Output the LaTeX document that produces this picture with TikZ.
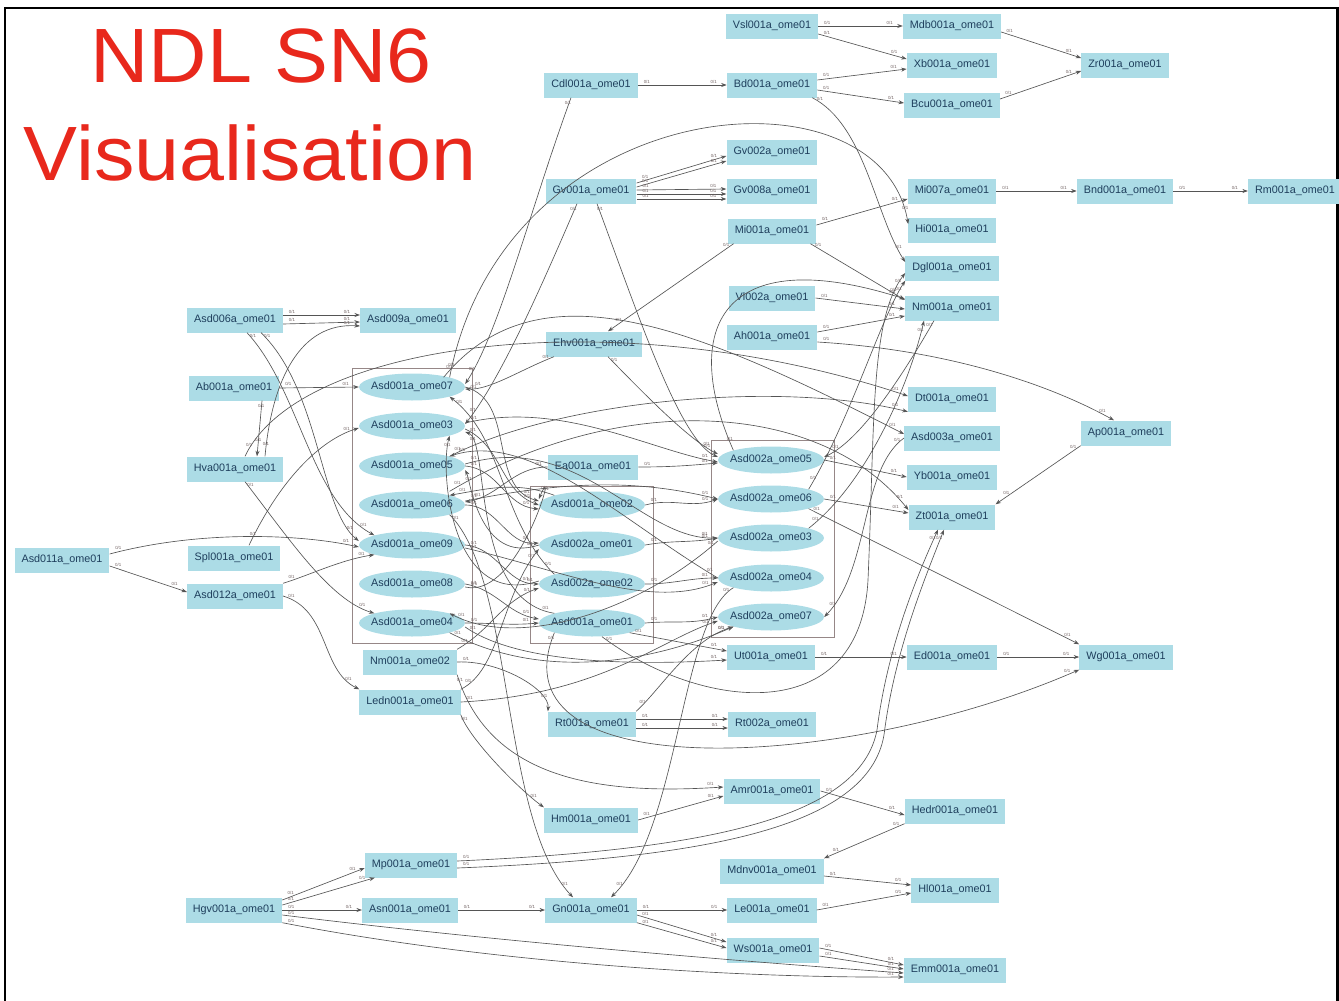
\documentclass[tikz,border=0pt]{standalone}
\usepackage{fontspec}
\setmainfont{Liberation Sans}
\usepackage{graphicx}
\usetikzlibrary{shapes.geometric,arrows.meta,decorations.markings}
\definecolor{boxblue}{RGB}{172,220,230}
\definecolor{nodetext}{RGB}{30,62,92}
\definecolor{edgegrey}{RGB}{85,85,85}
\definecolor{labgrey}{RGB}{115,100,100}
\definecolor{titlered}{RGB}{232,40,28}
\definecolor{clustergrey}{RGB}{150,135,135}
\tikzset{
  nb/.style={rectangle, fill=boxblue, text=nodetext, font=\fontsize{10.8}{12}\selectfont, minimum height=25pt, inner xsep=7pt, inner ysep=0pt},
  ne/.style={ellipse, fill=boxblue, minimum width=106pt, minimum height=27pt, inner sep=0pt},
  nt/.style={text=nodetext, font=\fontsize{10.8}{12}\selectfont, inner sep=0pt},
  lab/.style={font=\fontsize{4.4}{5}\selectfont, text=labgrey, inner sep=0.3pt},
  lnk/.style={draw=edgegrey, line width=0.65pt, -{Stealth[length=5.5pt,width=4pt]},
    postaction={decorate, decoration={markings,
      mark=at position 9pt with {\node[lab, yshift=3.5pt] {0/1};},
      mark=at position -13pt with {\node[lab, yshift=3.5pt] {0/1};}}}},
  cl/.style={draw=clustergrey, line width=0.8pt},
  ttl/.style={text=titlered, font=\fontsize{77}{80}\selectfont, inner sep=0pt, anchor=base}
}
\begin{document}
\begin{tikzpicture}[x=1pt,y=-1pt]
\useasboundingbox (0,0) rectangle (1339,1001);
% frame
\draw[line width=2.5pt] (5,1010) -- (5,8) -- (1337.5,8) -- (1337.5,1010);
% title
\node[ttl] (t1) at (261,82) {\scalebox{1.05}[1]{NDL SN6}};
\node[ttl] (t2) at (250,180) {\scalebox{1.05}[1]{Visualisation}};
% clusters
\draw[cl] (352,368) rectangle (472,643);
\draw[cl] (530,486) rectangle (653,643);
\draw[cl] (711,440) rectangle (834,637);
% top nodes
\node[nb] (vsl) at (772,26) {Vsl001a\_ome01};
\node[nb] (mdb) at (952,26) {Mdb001a\_ome01};
\node[nb] (xb) at (952,65) {Xb001a\_ome01};
\node[nb] (zr) at (1125,65) {Zr001a\_ome01};
\node[nb] (cd) at (591,85) {Cdl001a\_ome01};
\node[nb] (bd) at (772,85) {Bd001a\_ome01};
\node[nb] (bcu) at (952,105) {Bcu001a\_ome01};
\node[nb] (gv2) at (772,152) {Gv002a\_ome01};
\node[nb] (gv1) at (591,191) {Gv001a\_ome01};
\node[nb] (gv8) at (772,191) {Gv008a\_ome01};
\node[nb] (mi7) at (952,191) {Mi007a\_ome01};
\node[nb] (bnd) at (1125,191) {Bnd001a\_ome01};
\node[nb] (rm) at (1295,191) {Rm001a\_ome01};
\node[nb] (mi1) at (772,231) {Mi001a\_ome01};
\node[nb] (hi) at (952,230) {Hi001a\_ome01};
\node[nb] (dgl) at (952,268) {Dgl001a\_ome01};
\node[nb] (vl) at (772,298) {Vl002a\_ome01};
\node[nb] (nm) at (952,308) {Nm001a\_ome01};
\node[nb] (ah) at (772,337) {Ah001a\_ome01};
\node[nb] (ehv) at (594,344) {Ehv001a\_ome01};
% left nodes
\node[nb] (asd6) at (235,320) {Asd006a\_ome01};
\node[nb] (asd9) at (408,320) {Asd009a\_ome01};
\node[nb] (ab) at (234,388) {Ab001a\_ome01};
\node[nb] (hva) at (235,469) {Hva001a\_ome01};
\node[nb] (asd11) at (62,560) {Asd011a\_ome01};
\node[nb] (spl) at (234,558) {Spl001a\_ome01};
\node[nb] (asd12) at (235,596) {Asd012a\_ome01};
% left cluster
\node[ne] (a07) at (412,387) {}; \node[nt] (a07t) at (a07) {Asd001a\_ome07};
\node[ne] (a03) at (412,426) {}; \node[nt] (a03t) at (a03) {Asd001a\_ome03};
\node[ne] (a05) at (412,466) {}; \node[nt] (a05t) at (a05) {Asd001a\_ome05};
\node[ne] (a06) at (412,505) {}; \node[nt] (a06t) at (a06) {Asd001a\_ome06};
\node[ne] (a09) at (412,545) {}; \node[nt] (a09t) at (a09) {Asd001a\_ome09};
\node[ne] (a08) at (412,584) {}; \node[nt] (a08t) at (a08) {Asd001a\_ome08};
\node[ne] (a04) at (412,623) {}; \node[nt] (a04t) at (a04) {Asd001a\_ome04};
\node[nb] (nm2) at (410,662) {Nm001a\_ome02};
\node[nb] (ledn) at (410,702) {Ledn001a\_ome01};
% middle cluster
\node[nb] (ea) at (593,467) {Ea001a\_ome01};
\node[ne] (m02) at (592,505) {}; \node[nt] (m02t) at (m02) {Asd001a\_ome02};
\node[ne] (m21) at (592,545) {}; \node[nt] (m21t) at (m21) {Asd002a\_ome01};
\node[ne] (m22) at (592,584) {}; \node[nt] (m22t) at (m22) {Asd002a\_ome02};
\node[ne] (m01) at (592,623) {}; \node[nt] (m01t) at (m01) {Asd001a\_ome01};
% right cluster
\node[ne] (r05) at (771,460) {}; \node[nt] (r05t) at (r05) {Asd002a\_ome05};
\node[ne] (r06) at (771,499) {}; \node[nt] (r06t) at (r06) {Asd002a\_ome06};
\node[ne] (r03) at (771,538) {}; \node[nt] (r03t) at (r03) {Asd002a\_ome03};
\node[ne] (r04) at (771,578) {}; \node[nt] (r04t) at (r04) {Asd002a\_ome04};
\node[ne] (r07) at (771,617) {}; \node[nt] (r07t) at (r07) {Asd002a\_ome07};
% right column
\node[nb] (dt) at (952,399) {Dt001a\_ome01};
\node[nb] (asd3) at (952,438) {Asd003a\_ome01};
\node[nb] (yb) at (952,477) {Yb001a\_ome01};
\node[nb] (zt) at (952,517) {Zt001a\_ome01};
\node[nb] (ap) at (1126,433) {Ap001a\_ome01};
\node[nb] (ut) at (771,657) {Ut001a\_ome01};
\node[nb] (ed) at (952,657) {Ed001a\_ome01};
\node[nb] (wg) at (1126,657) {Wg001a\_ome01};
% lower nodes
\node[nb] (rt1) at (592,724) {Rt001a\_ome01};
\node[nb] (rt2) at (772,724) {Rt002a\_ome01};
\node[nb] (amr) at (772,791) {Amr001a\_ome01};
\node[nb] (hm) at (591,820) {Hm001a\_ome01};
\node[nb] (hedr) at (955,811) {Hedr001a\_ome01};
\node[nb] (mp) at (411,865) {Mp001a\_ome01};
\node[nb] (mdnv) at (772,871) {Mdnv001a\_ome01};
\node[nb] (hl) at (955,890) {Hl001a\_ome01};
\node[nb] (hgv) at (234,910) {Hgv001a\_ome01};
\node[nb] (asn) at (410,910) {Asn001a\_ome01};
\node[nb] (gn) at (591,910) {Gn001a\_ome01};
\node[nb] (le) at (772,910) {Le001a\_ome01};
\node[nb] (ws) at (773,950) {Ws001a\_ome01};
\node[nb] (emm) at (955,970) {Emm001a\_ome01};
% ---------- edges ----------
% top group
\draw[lnk] (vsl.east) -- (mdb.west);
\draw[lnk] ([yshift=-8pt]vsl.east) -- ([yshift=6pt]xb.west);
\draw[lnk] ([yshift=5pt]bd.east) -- ([yshift=-4pt]xb.west);
\draw[lnk] ([yshift=-5pt]bd.east) -- ([yshift=2pt]bcu.west);
\draw[lnk] ([yshift=-6pt]mdb.east) -- ([yshift=7pt]zr.west);
\draw[lnk] ([yshift=6pt]bcu.east) -- ([yshift=-6pt]zr.west);
\draw[lnk] (cd.east) -- (bd.west);
\draw[lnk] ([xshift=-20pt]cd.south) .. controls (530,210) and (500,330) .. ([yshift=3pt]a07.east);
\draw[lnk] ([xshift=-5pt]bd.south east) .. controls (865,125) and (875,215) .. ([yshift=6pt]dgl.west);
% Gv
\draw[lnk] ([yshift=8pt]gv1.east) -- ([yshift=-4pt]gv2.west);
\draw[lnk] ([yshift=4pt]gv1.east) -- ([yshift=-9pt]gv2.west);
\draw[lnk] ([yshift=1pt]gv1.east) -- ([yshift=2pt]gv8.west);
\draw[lnk] ([yshift=-3pt]gv1.east) -- ([yshift=-3pt]gv8.west);
\draw[lnk] ([yshift=-8pt]gv1.east) -- ([yshift=-8pt]gv8.west);
\draw[lnk] ([xshift=-14pt]gv1.south) .. controls (540,290) and (500,380) .. ([yshift=2pt]a03.east);
\draw[lnk] ([xshift=6pt]gv1.south) .. controls (640,320) and (680,440) .. ([yshift=3pt]r05.west);
% Mi, Vl, Ah, Nm
\draw[lnk] (mi7.east) -- (bnd.west);
\draw[lnk] (bnd.east) -- (rm.west);
\draw[lnk] ([yshift=6pt]mi1.east) -- ([yshift=-8pt]mi7.west);
\draw[lnk] ([xshift=-6pt]mi1.south east) -- ([yshift=8pt]nm.west);
\draw[lnk] ([xshift=6pt]mi1.south west) -- ([xshift=14pt]ehv.north);
\draw[lnk] (vl.east) -- ([yshift=-1pt]nm.west);
\draw[lnk] ([yshift=5pt]ah.east) -- ([yshift=-8pt]nm.west);
\draw[lnk] ([yshift=-5pt]ah.east) .. controls (950,350) and (1050,385) .. ([xshift=-12pt]ap.north);
\draw[lnk] ([xshift=-18pt]nm.south) .. controls (900,380) and (860,440) .. ([yshift=3pt]r05.east);
\draw[lnk] (a07.north east) .. controls (505,90) and (880,60) .. ([yshift=6pt]hi.west);
\draw[lnk] (r05.north west) .. controls (680,330) and (720,240) .. ([yshift=9pt]nm.west);
% Ehv
\draw[lnk] ([xshift=8pt]ehv.south west) .. controls (520,370) and (490,390) .. ([yshift=-2pt]a07.east);
\draw[lnk] ([xshift=14pt]ehv.south) .. controls (650,400) and (690,440) .. ([yshift=6pt]r05.west);
\draw[lnk] ([xshift=-6pt]a07.north east) .. controls (540,260) and (700,330) .. ([yshift=4pt]asd3.west);
% left
\draw[lnk] ([yshift=5pt]asd6.east) -- ([yshift=5pt]asd9.west);
\draw[lnk] ([yshift=-4pt]asd6.east) -- ([yshift=-2pt]asd9.west);
\draw[lnk] ([xshift=12pt]asd6.south) .. controls (300,390) and (310,500) .. (a09.north west);
\draw[lnk] ([xshift=26pt]asd6.south) .. controls (320,390) and (320,510) .. ([yshift=4pt]a09.west);
\draw[lnk] ([xshift=30pt]hva.north) .. controls (272,380) and (300,322) .. ([yshift=-6pt]asd9.west);
\draw[lnk] ([xshift=10pt]hva.north) .. controls (300,340) and (620,300) .. ([yshift=3pt]dt.west);
\draw[lnk] (ab.east) -- (a07.west);
\draw[lnk] ([xshift=28pt]ab.south) -- ([xshift=22pt]hva.north);
\draw[lnk] ([xshift=10pt]hva.south) .. controls (290,540) and (330,600) .. (a04.north west);
\draw[lnk] ([xshift=15pt]spl.north) .. controls (280,480) and (320,440) .. ([yshift=-2pt]a03.west);
\draw[lnk] ([yshift=6pt]asd11.east) .. controls (200,530) and (300,534) .. ([yshift=-2pt]a09.west);
\draw[lnk] ([yshift=-6pt]asd11.east) -- ([yshift=4pt]asd12.west);
\draw[lnk] (asd12.north east) .. controls (310,575) and (340,560) .. (a09.south west);
\draw[lnk] (asd12.east) .. controls (330,610) and (320,670) .. (ledn.north west);
\draw[lnk] (ledn.south east) .. controls (470,740) and (520,790) .. (hm.north west);
% middle tangle
\draw[lnk] (a07.east) to[out=-15,in=165] ([yshift=4pt]m02.west);
\draw[lnk] ([yshift=-3pt]a03.east) to[out=-25,in=160] (m02.west);
\draw[lnk] (a05.east) to[out=-5,in=175] ([yshift=-4pt]m02.west);
\draw[lnk] (a06.east) to[out=0,in=185] ([yshift=2pt]m21.west);
\draw[lnk] (a09.east) to[out=-5,in=180] (m22.west);
\draw[lnk] (a04.east) to[out=0,in=185] (m01.west);
\draw[lnk] (a08.east) to[out=-10,in=170] ([yshift=4pt]m01.west);
\draw[lnk] (nm2.north east) to[out=30,in=200] ([yshift=-4pt]m22.west);
\draw[lnk] (m21.west) .. controls (480,565) and (470,480) .. ([yshift=-4pt]a05.east);
\draw[lnk] (m01.north west) .. controls (470,600) and (490,440) .. ([yshift=-6pt]a03.east);
\draw[lnk] (m22.north west) .. controls (500,520) and (505,440) .. (a07.south east);
\draw[lnk] (r04.west) .. controls (620,520) and (530,430) .. (a05.north east);
\draw[lnk] (m02.north west) to[out=160,in=10] (a06.north east);
\draw[lnk] (ea.west) to[out=180,in=10] ([yshift=3pt]a06.east);
\draw[lnk] ([yshift=3pt]m22.west) .. controls (450,610) and (440,470) .. (a03.south east);
\draw[lnk] ([yshift=-3pt]r03.west) .. controls (640,610) and (520,650) .. (a04.north east);
\draw[lnk] ([yshift=-3pt]a09.east) .. controls (560,570) and (650,610) .. ([yshift=-4pt]r04.west);
\draw[lnk] ([yshift=-3pt]a08.east) .. controls (520,600) and (560,450) .. ([yshift=6pt]m02.west);
% left to right
\draw[lnk] ([yshift=3pt]a03.east) .. controls (560,400) and (650,450) .. ([yshift=-2pt]r05.west);
\draw[lnk] ([yshift=4pt]a06.east) .. controls (570,480) and (640,480) .. (r06.west);
\draw[lnk] ([yshift=2pt]a05.east) .. controls (580,430) and (640,540) .. (r03.west);
\draw[lnk] (a04.south east) .. controls (560,690) and (680,650) .. (r07.south west);
\draw[lnk] (m21.east) to[out=10,in=190] (r03.west);
\draw[lnk] (m22.east) to[out=0,in=180] (r04.west);
\draw[lnk] (m01.east) to[out=5,in=195] (r07.west);
\draw[lnk] (m02.east) to[out=15,in=200] (r06.west);
\draw[lnk] (ea.east) to[out=0,in=185] ([yshift=-3pt]r05.west);
% right cluster outputs
\draw[lnk] (r05.east) -- (yb.west);
\draw[lnk] (r06.east) -- ([yshift=4pt]zt.west);
\draw[lnk] (r06.south east) -- (wg.north west);
\draw[lnk] (r03.north east) .. controls (870,480) and (910,380) .. ([xshift=-28pt]nm.south);
\draw[lnk] (r06.north east) .. controls (850,420) and (880,320) .. (dgl.south west);
\draw[lnk] (asd3.west) .. controls (860,470) and (870,570) .. (r07.east);
\draw[lnk] ([yshift=4pt]a06.north east) .. controls (620,390) and (820,400) .. ([yshift=7pt]zt.west);
\draw[lnk] (ap.south west) -- (zt.north east);
\draw[lnk] (a05.north east) .. controls (560,400) and (780,380) .. (dt.south west);
% Ut, Ed, Wg
\draw[lnk] (m01.south east) -- ([yshift=6pt]ut.west);
\draw[lnk] ([yshift=-4pt]a04.east) .. controls (520,665) and (640,665) .. ([yshift=-3pt]ut.west);
\draw[lnk] (ut.east) -- (ed.west);
\draw[lnk] (ed.east) -- (wg.west);
\draw[lnk] (m01.south west) .. controls (490,790) and (850,770) .. (wg.south west);
\draw[lnk] ([xshift=10pt]m01.south) .. controls (700,710) and (860,730) .. (868,580) .. controls (875,420) and (870,320) .. ([yshift=-5pt]dgl.west);
% Rt, Ledn
\draw[lnk] (nm2.east) .. controls (500,660) and (550,690) .. (rt1.north west);
\draw[lnk] (rt1.north east) .. controls (660,690) and (690,640) .. (r07.south west);
\draw[lnk] ([yshift=5pt]rt1.east) -- ([yshift=5pt]rt2.west);
\draw[lnk] ([yshift=-4pt]rt1.east) -- ([yshift=-4pt]rt2.west);
\draw[lnk] (ledn.east) .. controls (600,695) and (660,640) .. ([yshift=-4pt]r07.west);
\draw[lnk] (ledn.north east) .. controls (500,670) and (500,600) .. ([yshift=-4pt]m21.west);
% Amr, Hm, Hedr
\draw[lnk] (nm2.south east) .. controls (490,780) and (600,795) .. ([yshift=4pt]amr.west);
\draw[lnk] (hm.east) -- ([yshift=-5pt]amr.west);
\draw[lnk] (amr.east) -- ([yshift=-4pt]hedr.west);
\draw[lnk] (hedr.south west) -- (mdnv.north east);
\draw[lnk] ([yshift=-5pt]mdnv.east) -- ([yshift=5pt]hl.west);
\draw[lnk] (le.east) -- ([yshift=-3pt]hl.west);
% Gn
\draw[lnk] (gn.east) -- (le.west);
\draw[lnk] ([yshift=-5pt]gn.east) -- ([yshift=8pt]ws.west);
\draw[lnk] (gn.south east) -- ([yshift=2pt]ws.west);
\draw[lnk] ([yshift=2pt]ws.east) -- ([yshift=5pt]emm.west);
\draw[lnk] ([yshift=-6pt]ws.east) -- ([yshift=1pt]emm.west);
\draw[lnk] (a06.south east) .. controls (515,580) and (500,820) .. ([xshift=-18pt]gn.north);
\draw[lnk] (r04.south west) .. controls (680,620) and (680,830) .. ([xshift=20pt]gn.north);
% bottom
\draw[lnk] (hgv.east) -- (asn.west);
\draw[lnk] (asn.east) -- (gn.west);
\draw[lnk] ([yshift=10pt]hgv.east) -- ([yshift=-3pt]mp.west);
\draw[lnk] ([yshift=5pt]hgv.east) -- ([xshift=10pt]mp.south west);
\draw[lnk] ([yshift=-5pt]hgv.east) .. controls (500,942) and (750,962) .. ([yshift=-3pt]emm.west);
\draw[lnk] (hgv.south east) .. controls (500,965) and (750,978) .. ([yshift=-7pt]emm.west);
\draw[lnk] ([yshift=4pt]mp.east) .. controls (700,850) and (860,820) .. (877,730) .. controls (887,650) and (915,580) .. ([xshift=-14pt]zt.south);
\draw[lnk] ([yshift=-3pt]mp.east) .. controls (705,858) and (868,828) .. (884,735) .. controls (894,655) and (922,585) .. ([xshift=-8pt]zt.south);
\end{tikzpicture}
\end{document}
